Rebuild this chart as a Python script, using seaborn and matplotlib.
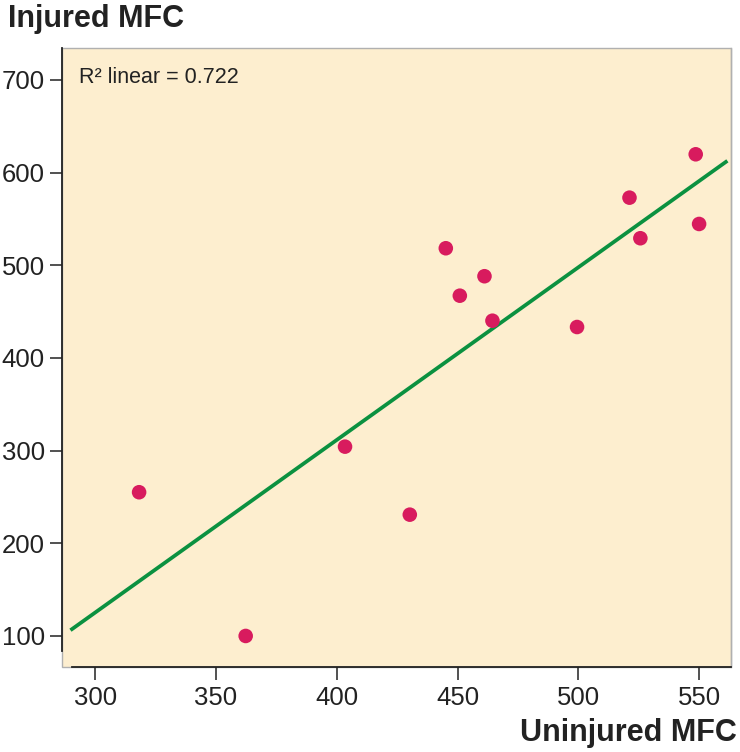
import numpy as np
import pandas as pd
import matplotlib
matplotlib.use("Agg")
import matplotlib.pyplot as plt
import seaborn as sns

# Data
uninjured = [318.2, 362.3, 403.4, 430.2, 445.1, 450.9, 461.1, 464.4, 499.4, 521.1, 525.6, 548.5, 549.9]
injured = [255.1, 100.0, 304.3, 230.9, 518.4, 467.2, 488.2, 440.2, 433.4, 573.0, 529.2, 619.8, 544.6]
x_ticks = [300, 350, 400, 450, 500, 550]
y_ticks = [100, 200, 300, 400, 500, 600, 700]
r2_label = "R² linear = 0.722"
x_label = "Uninjured MFC"
y_label = "Injured MFC"

df = pd.DataFrame({"Uninjured": uninjured, "Injured": injured})

sns.set_theme(style="ticks")
plt.rcParams["font.family"] = ["Liberation Sans", "DejaVu Sans"]

BG = "#FDEECF"
DOT = "#D81B5E"
GREEN = "#0B9140"
INK = "#222222"

fig = plt.figure(figsize=(7.4, 7.52), dpi=100)
ax = fig.add_axes([62 / 740, 1 - 667 / 752, (731 - 62) / 740, (667 - 48) / 752])
ax.set_facecolor(BG)

# regression line spans fitted range
ax.set_xlim(289.8, 561.6)
sns.regplot(data=df, x="Uninjured", y="Injured", ax=ax, ci=None, truncate=False,
            scatter=False, line_kws=dict(color=GREEN, lw=2.7, solid_capstyle="butt"))
sns.scatterplot(data=df, x="Uninjured", y="Injured", ax=ax, color=DOT, s=110,
                edgecolor="none", zorder=3)

ax.set_xlim(286.3, 563.1)
ax.set_ylim(66.5, 734.5)
ax.set_xticks(x_ticks)
ax.set_yticks(y_ticks)
ax.tick_params(axis="both", direction="out", length=9, width=1.1, color=INK,
               labelsize=18.5, labelcolor=INK)
ax.tick_params(axis="x", pad=4.5)
ax.tick_params(axis="y", pad=3.5)
ax.set_xlabel("")
ax.set_ylabel("")

ax.patch.set_edgecolor("#b0b0b0")
ax.patch.set_linewidth(1.0)
ax.spines["top"].set_visible(False)
ax.spines["right"].set_color("#b0b0b0")
ax.spines["right"].set_linewidth(1.0)
for s in ["left", "bottom"]:
    ax.spines[s].set_color(INK)
    ax.spines[s].set_linewidth(1.3)
ax.spines["left"].set_bounds(83.8, 734.5)
ax.spines["bottom"].set_bounds(290.5, 563.1)

ax.text(0.0254, 0.944, r2_label, transform=ax.transAxes, fontsize=15.5,
        color=INK, va="baseline", ha="left")

fig.text(8 / 740, 1 - 26.7 / 752, y_label, fontsize=22, fontweight="bold", color=INK,
         ha="left", va="baseline")
fig.text(737 / 740, 1 - 741 / 752, x_label, fontsize=22, fontweight="bold", color=INK,
         ha="right", va="baseline")

fig.savefig("out.png", dpi=100)
